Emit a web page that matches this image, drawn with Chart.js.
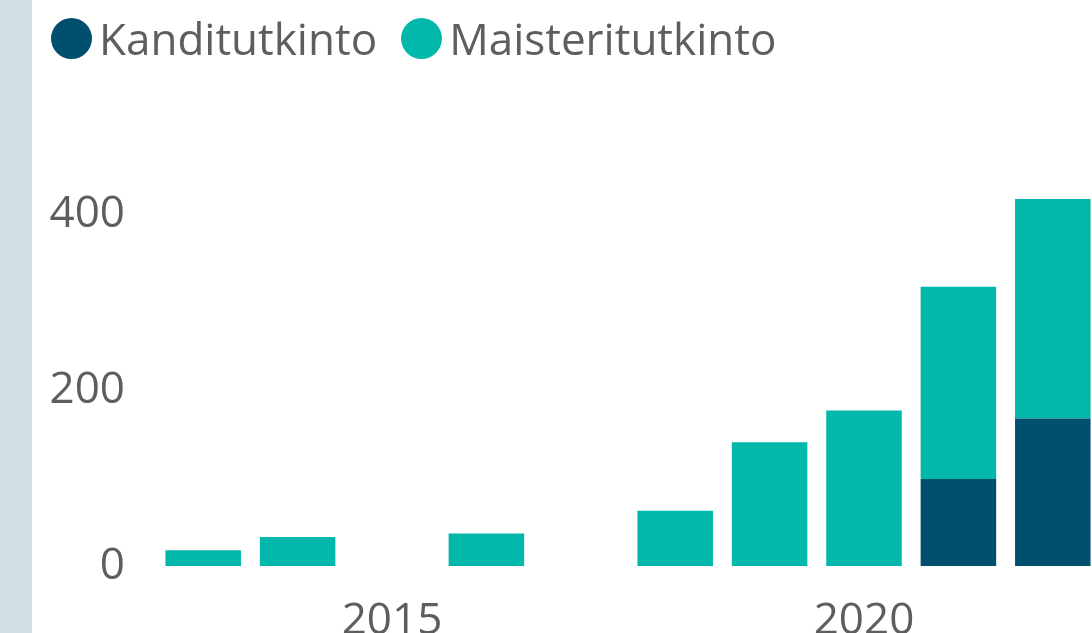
<!DOCTYPE html>
<html>
<head>
<meta charset="utf-8">
<script src="https://cdn.jsdelivr.net/npm/chart.js@4"></script>
<style>
  html, body { margin: 0; padding: 0; background: #fff; overflow: hidden; width: 1092px; height: 633px; }
  #strip { position: absolute; left: 0; top: 0; width: 32px; height: 633px; background: #d3dfe5; }
  #legend { position: absolute; left: 51px; top: 8px; display: flex; align-items: center;
            font-family: "Open Sans", sans-serif; font-size: 44px; color: #605e5c; }
  #legend .item { display: flex; align-items: center; margin-right: 24px; }
  #legend .dot { width: 41px; height: 41px; border-radius: 50%; margin-right: 7px; }
  #myChart { position: absolute; left: 0; top: 0; }
</style>
</head>
<body>
<canvas id="myChart" width="1100" height="633"></canvas>
<div id="strip"></div>
<div id="legend"></div>
<script>
var years = ["2013", "2014", "2015", "2016", "2017", "2018", "2019", "2020", "2021", "2022"];
var kandi = [null, null, null, null, null, null, null, null, 99, 168];
var maisteri = [18, 33, null, 37, null, 63, 141, 177, 219, 250];
var xLabels = ["2015", "2020"];
var yTicks = [0, 200, 400];
var seriesNames = ["Kanditutkinto", "Maisteritutkinto"];
var colors = ['#004f6f', '#01b8aa'];

var textColor = '#605e5c';
var tickFont = { family: "'Open Sans', sans-serif", size: 44 };

var ctx = document.getElementById("myChart");
var myChart = new Chart(ctx, {
    type: 'bar',
    data: {
        labels: years,
        datasets: [{
            label: seriesNames[0],
            data: kandi,
            backgroundColor: colors[0]
        }, {
            label: seriesNames[1],
            data: maisteri,
            backgroundColor: colors[1]
        }]
    },
    options: {
        responsive: false,
        animation: false,
        devicePixelRatio: 1,
        layout: { padding: { top: 127, left: 0, right: 0, bottom: 0 } },
        plugins: { legend: { display: false }, tooltip: { enabled: false } },
        datasets: { bar: { barPercentage: 0.8, categoryPercentage: 1.0 } },
        scales: {
            x: {
                stacked: true,
                grid: { display: false },
                border: { display: false },
                ticks: {
                    color: textColor, font: tickFont, padding: 21,
                    autoSkip: false, maxRotation: 0,
                    callback: function(v, i) {
                        var l = years[i];
                        return xLabels.indexOf(l) >= 0 ? l : '';
                    }
                },
                afterFit: function(s) { s.height = 67; }
            },
            y: {
                stacked: true,
                min: 0, max: 500,
                grid: { display: false },
                border: { display: false },
                ticks: { color: textColor, font: tickFont, padding: 23 },
                afterBuildTicks: function(s) {
                    s.ticks = yTicks.map(function(v) { return { value: v }; });
                },
                afterFit: function(s) { s.width = 156; }
            }
        }
    }
});

// legend
var lg = document.getElementById('legend');
for (var i = 0; i < seriesNames.length; i++) {
    var it = document.createElement('div');
    it.className = 'item';
    it.innerHTML = '<span class="dot" style="background:' + colors[i] + '"></span><span>' + seriesNames[i] + '</span>';
    lg.appendChild(it);
}
</script>
</body>
</html>
